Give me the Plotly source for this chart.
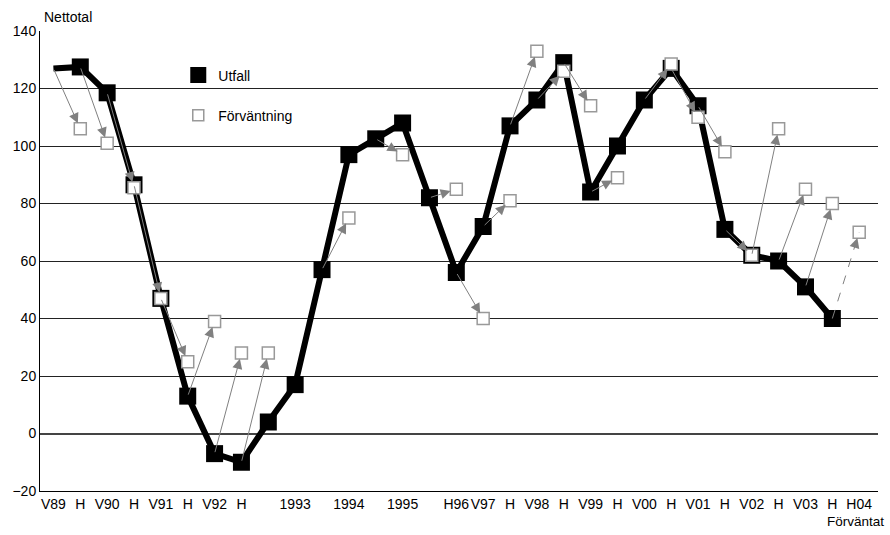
import plotly.graph_objects as go

# half-year periods, index 0 = V89 ... index 30 = H04 (expected)
tick_idx = [0, 1, 2, 3, 4, 5, 6, 7, 9, 11, 13, 15, 16, 17, 18, 19, 20, 21, 22, 23, 24, 25, 26, 27, 28, 29, 30]
tick_txt = ["V89", "H", "V90", "H", "V91", "H", "V92", "H", "1993", "1994", "1995",
            "H96", "V97", "H", "V98", "H", "V99", "H", "V00", "H", "V01", "H", "V02", "H", "V03", "H", "H04"]

# Utfall (outcome), index 0..29
utfall = [127, 127.5, 118.5, 86.5, 47, 13, -7, -10, 4, 17, 57, 97, 102.5, 108, 82, 56, 72, 107,
          116, 129, 84, 100, 116, 127, 114, 71, 62, 60, 51, 40]

# Förväntning (expectation made the period before), index 0..30
forvantning = [None, 106, 101, 85.5, 47, 25, 39, 28, 28, None, None, 75, None, 97, None, 85, 40, 81,
               133, 126, 114, 89, None, 128.5, 110, 98, 62, 106, 85, 80, 70]

x_utfall = list(range(len(utfall)))
x_forv = list(range(len(forvantning)))

FONT = "Liberation Sans, Arial, sans-serif"
GREY = "#808080"

fig = go.Figure()

# outcome line, first point has no marker
sizes = [0] + [17] * (len(utfall) - 1)
fig.add_trace(go.Scatter(x=x_utfall, y=utfall, mode="lines+markers",
                         line=dict(color="black", width=6),
                         marker=dict(symbol="square", size=sizes, color="black", opacity=1,
                                     line=dict(color="black", width=0)),
                         showlegend=False, hoverinfo="skip"))

# expectation squares
fig.add_trace(go.Scatter(x=x_forv, y=forvantning, mode="markers",
                         marker=dict(symbol="square", size=12, color="white", opacity=1,
                                     line=dict(color="#999999", width=1.5)),
                         showlegend=False, hoverinfo="skip"))

# legend-only entries
fig.add_trace(go.Scatter(x=[None], y=[None], mode="markers", name="Utfall",
                         marker=dict(symbol="square", size=16, color="black", opacity=1,
                                     line=dict(color="black", width=0)),
                         legendgroup="a"))
fig.add_trace(go.Scatter(x=[None], y=[None], mode="markers", name="Förväntning",
                         marker=dict(symbol="square", size=11, color="white", opacity=1,
                                     line=dict(color="#999999", width=1.5)),
                         legendgroup="b"))

# arrows from outcome at t-1 to expectation for t
last = len(forvantning) - 1
for i, f in enumerate(forvantning):
    if f is None or i == 0:
        continue
    x0, y0 = i - 1, utfall[i - 1]
    if i == last:
        # dashed line for the forecast, head drawn as a short arrow at the tip
        fig.add_trace(go.Scatter(x=[x0, i], y=[y0, f], mode="lines",
                                 line=dict(color=GREY, width=1, dash="dash"),
                                 showlegend=False, hoverinfo="skip"))
        x0 = i - 0.2
        y0 = f - 0.2 * (f - utfall[i - 1])
    fig.add_annotation(x=i, y=f, ax=x0, ay=y0, xref="x", yref="y", axref="x", ayref="y",
                       showarrow=True, arrowhead=2, arrowsize=2, arrowwidth=1,
                       arrowcolor=GREY, standoff=6, text="")

fig.add_annotation(text="Nettotal", x=0, y=1, xref="paper", yref="paper", xanchor="left",
                   yanchor="bottom", yshift=4, xshift=2, showarrow=False,
                   font=dict(family=FONT, size=14, color="black"))
fig.add_annotation(text="Förväntat", x=1, y=0, xref="paper", yref="paper", xanchor="right",
                   yanchor="top", yshift=-21, xshift=8, showarrow=False,
                   font=dict(family=FONT, size=13.5, color="black"))

fig.update_xaxes(range=[-0.5, 30.7], tickmode="array", tickvals=tick_idx, ticktext=tick_txt,
                 showgrid=False, zeroline=False, showline=True, linecolor="black", linewidth=1,
                 ticks="", tickangle=0, automargin=False,
                 tickfont=dict(family=FONT, size=14, color="black"))
fig.update_yaxes(range=[-20, 140], dtick=20, showgrid=True, gridcolor="#222222", gridwidth=1,
                 zeroline=True, zerolinecolor="#444444", zerolinewidth=2,
                 showline=True, linecolor="black", linewidth=1, ticks="", automargin=False,
                 tickfont=dict(family=FONT, size=14, color="black"))

fig.update_layout(width=890, height=535, margin=dict(l=40, r=12, t=31, b=44),
                  plot_bgcolor="white", paper_bgcolor="white",
                  font=dict(family=FONT, size=14, color="black"),
                  legend=dict(x=0.165, y=0.938, xanchor="left", yanchor="top",
                              bgcolor="rgba(0,0,0,0)", tracegroupgap=19,
                              font=dict(family=FONT, size=14)))

# page body has a default 8px margin; drop it so the figure sits at the window corner
fig.write_html("out.html", config={"displayModeBar": False},
               post_script="document.body.style.margin='0';")
